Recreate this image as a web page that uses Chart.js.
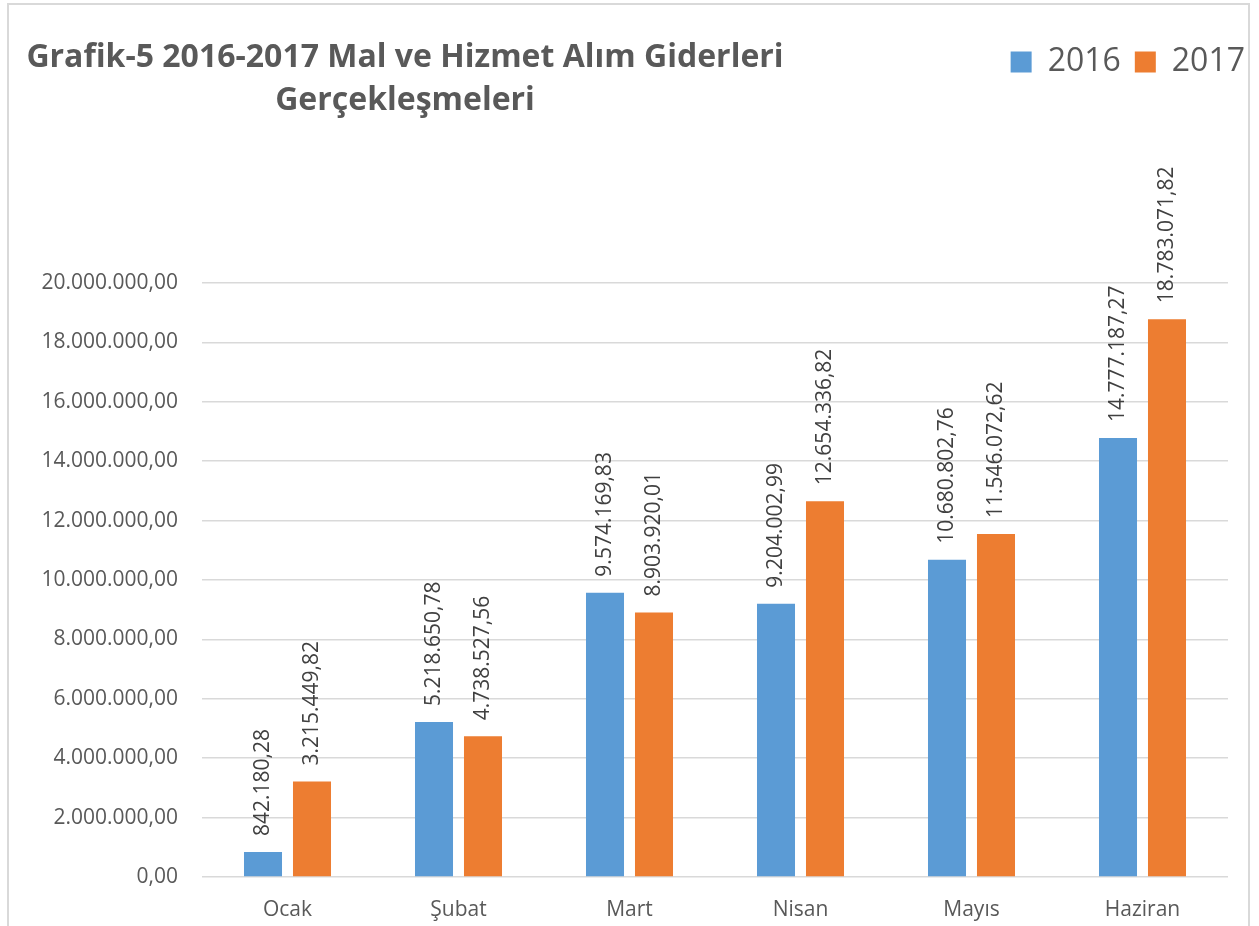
<!DOCTYPE html>
<html lang="tr">
<head>
<meta charset="utf-8">
<title>Grafik-5 2016-2017 Mal ve Hizmet Alım Giderleri Gerçekleşmeleri</title>
<script src="https://cdn.jsdelivr.net/npm/chart.js@4/dist/chart.umd.min.js"></script>
<style>
  html, body { margin: 0; padding: 0; background: #fff; }
  #wrap { position: relative; width: 1259px; height: 926px; overflow: hidden; }
  #frame {
    position: absolute; left: 7px; top: 3px; width: 1243px; height: 940px;
    border: 2px solid #d9d9d9; box-sizing: border-box;
  }
  #title {
    position: absolute; left: 5px; top: 33px; width: 800px;
    text-align: center; font-family: "Open Sans", sans-serif; font-weight: 700;
    font-size: 32px; line-height: 43px; color: #595959;
  }
  canvas { position: absolute; left: 0; top: 0; }
</style>
</head>
<body>
<div id="wrap">
  <div id="frame"></div>
  <canvas id="giderChart" width="1259" height="926"></canvas>
  <div id="title">Grafik-5 2016-2017 Mal ve Hizmet Alım Giderleri<br>Gerçekleşmeleri</div>
</div>
<script>
// --- data ---------------------------------------------------------------
const months = ["Ocak", "Şubat", "Mart", "Nisan", "Mayıs", "Haziran"];
const values2016 = [842180.28, 5218650.78, 9574169.83, 9204002.99, 10680802.76, 14777187.27];
const values2017 = [3215449.82, 4738527.56, 8903920.01, 12654336.82, 11546072.62, 18783071.82];
const yTickMax = 20000000;
const yTickStep = 2000000;

const BLUE = "#5B9BD5";
const ORANGE = "#ED7D31";
const TEXT_GRAY = "#595959";
const FONT = "'Open Sans', sans-serif";

// Turkish number format: 1.234.567,89
function formatTr(v) {
  const [intPart, dec] = v.toFixed(2).split(".");
  return intPart.replace(/\B(?=(\d{3})+(?!\d))/g, ".") + "," + dec;
}

/**
 * Helper: rotated value labels above each bar
 */
const barValueLabels = {
  id: "barValueLabels",
  afterDatasetsDraw(chart) {
    const ctx = chart.ctx;
    ctx.save();
    ctx.font = `21px ${FONT}`;
    ctx.fillStyle = "#404040";
    ctx.textAlign = "left";
    ctx.textBaseline = "middle";
    chart.data.datasets.forEach((ds, di) => {
      const meta = chart.getDatasetMeta(di);
      meta.data.forEach((bar, i) => {
        ctx.save();
        ctx.translate(bar.x, bar.y - 16);
        ctx.rotate(-Math.PI / 2);
        ctx.fillText(formatTr(ds.data[i]), 0, 0);
        ctx.restore();
      });
    });
    ctx.restore();
  }
};

/**
 * Helper: pushes the plot area down below the legend row
 */
const legendSpacer = {
  id: "legendSpacer",
  beforeInit(chart) {
    const fit = chart.legend.fit;
    chart.legend.fit = function () {
      fit.call(this);
      this.height += 195;
    };
  }
};

function buildChartConfig() {
  return {
    type: "bar",
    data: {
      labels: months,
      datasets: [
        { label: "2016", data: values2016, backgroundColor: BLUE, yAxisID: "y",
          barPercentage: 0.776, categoryPercentage: 0.573 },
        { label: "2017", data: values2017, backgroundColor: ORANGE, yAxisID: "y",
          barPercentage: 0.776, categoryPercentage: 0.573 }
      ]
    },
    options: {
      responsive: false,
      animation: false,
      layout: { padding: { left: 0, right: 0, top: 32, bottom: 0 } },
      plugins: {
        title: { display: false },
        tooltip: { enabled: false },
        legend: {
          position: "top",
          align: "end",
          labels: {
            boxWidth: 21,
            boxHeight: 21,
            padding: 14,
            color: TEXT_GRAY,
            font: { family: FONT, size: 32 }
          }
        }
      },
      scales: {
        x: {
          grid: { display: false },
          border: { display: false },
          ticks: { color: TEXT_GRAY, padding: 12, font: { family: FONT, size: 21 } },
          afterFit(s) { s.height = 49; }
        },
        y: {
          min: 0,
          max: yTickMax,
          grid: { color: "#d9d9d9", lineWidth: 1.5, drawTicks: false },
          border: { display: false },
          ticks: {
            stepSize: yTickStep,
            padding: 24,
            color: TEXT_GRAY,
            font: { family: FONT, size: 21 },
            callback: v => formatTr(v)
          },
          afterFit(s) { s.width = 202; }
        },
        yPad: {
          position: "right",
          grid: { display: false },
          border: { display: false },
          ticks: { display: false },
          afterFit(s) { s.width = 31; }
        }
      }
    },
    plugins: [legendSpacer, barValueLabels]
  };
}

const canvas = document.getElementById("giderChart");
new Chart(canvas.getContext("2d"), buildChartConfig());
</script>
</body>
</html>
